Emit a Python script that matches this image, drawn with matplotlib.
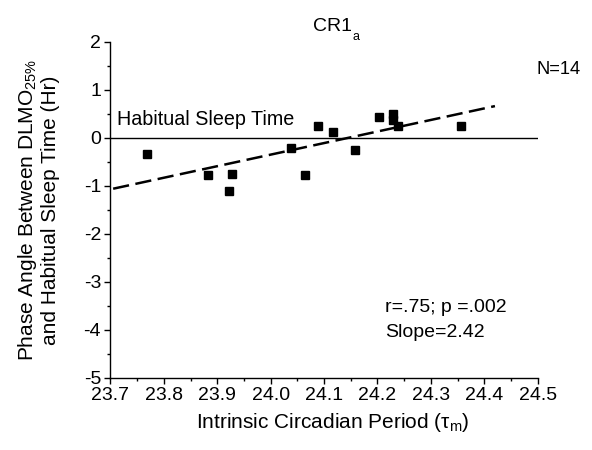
import matplotlib
matplotlib.use("Agg")
import matplotlib.pyplot as plt
from matplotlib.ticker import MultipleLocator

plt.rcParams['font.family'] = ['Liberation Sans', 'DejaVu Sans']
plt.rcParams['mathtext.fontset'] = 'custom'
plt.rcParams['mathtext.rm'] = 'Liberation Sans'
plt.rcParams['mathtext.it'] = 'Liberation Sans:italic'

# Data
tau = [23.768, 23.883, 23.928, 23.922, 24.039, 24.064, 24.088,
       24.116, 24.158, 24.202, 24.230, 24.230, 24.238, 24.356]
phase = [-0.34, -0.78, -0.75, -1.10, -0.21, -0.78, 0.24,
         0.13, -0.25, 0.43, 0.49, 0.37, 0.24, 0.24]
fit_x = [23.705, 24.42]
fit_y = [-1.06, 0.66]
xticks = [23.7, 23.8, 23.9, 24.0, 24.1, 24.2, 24.3, 24.4, 24.5]
yticks = [-5, -4, -3, -2, -1, 0, 1, 2]

fig = plt.figure(figsize=(5.92, 4.5), dpi=100)
ax = fig.add_axes([0.1866, 0.16, 0.7216, 0.7473])

ax.axhline(0, color='black', lw=1.0)
ax.plot(fit_x, fit_y, color='black', lw=1.8, dashes=(6.5, 2.6))
ax.plot(tau, phase, 's', color='black', markersize=5.5, linestyle='none')

ax.set_xlim(23.7, 24.5)
ax.set_ylim(-5, 2)
ax.set_xticks(xticks)
ax.set_xticklabels([f"{v:.1f}" for v in xticks])
ax.set_yticks(yticks)
ax.set_yticklabels([str(v) for v in yticks])
ax.xaxis.set_minor_locator(MultipleLocator(0.05))
ax.yaxis.set_minor_locator(MultipleLocator(0.5))

for s in ['top', 'right']:
    ax.spines[s].set_visible(False)
for s in ['left', 'bottom']:
    ax.spines[s].set_linewidth(1.0)

ax.tick_params(axis='x', which='major', direction='out', length=4.3, width=1, labelsize=14, pad=2.5)
ax.tick_params(axis='x', which='minor', direction='out', length=2.5, width=1)
ax.tick_params(axis='y', which='major', direction='out', length=4.3, width=1, labelsize=14, pad=2.5)
ax.tick_params(axis='y', which='minor', direction='out', length=2.5, width=1)

ax.text(23.712, 0.26, 'Habitual Sleep Time', fontsize=14.2, ha='left', va='baseline')
ax.text(24.214, -3.53, 'r=.75; p =.002', fontsize=14, ha='left', va='center')
ax.text(24.214, -4.05, 'Slope=2.42', fontsize=14, ha='left', va='center')

fig.text(0.907, 0.845, 'N=14', fontsize=13.2, ha='left', va='center')
# title with a low-set subscript
fig.text(0.529, 0.931, 'CR1', fontsize=14, ha='left', va='baseline')
fig.text(0.595, 0.912, 'a', fontsize=9, ha='left', va='baseline')

ax.set_xlabel('Intrinsic Circadian Period (\u03c4$_{\\mathrm{m}}$)', fontsize=15)
ax.xaxis.set_label_coords(0.521, -0.097)
ax.set_ylabel('Phase Angle Between DLMO$_{\\mathrm{25\\%}}$\nand Habitual Sleep Time (Hr)', fontsize=15, linespacing=1.15)
ax.yaxis.set_label_coords(-0.118, 0.5)

fig.savefig('out.png', dpi=100)
